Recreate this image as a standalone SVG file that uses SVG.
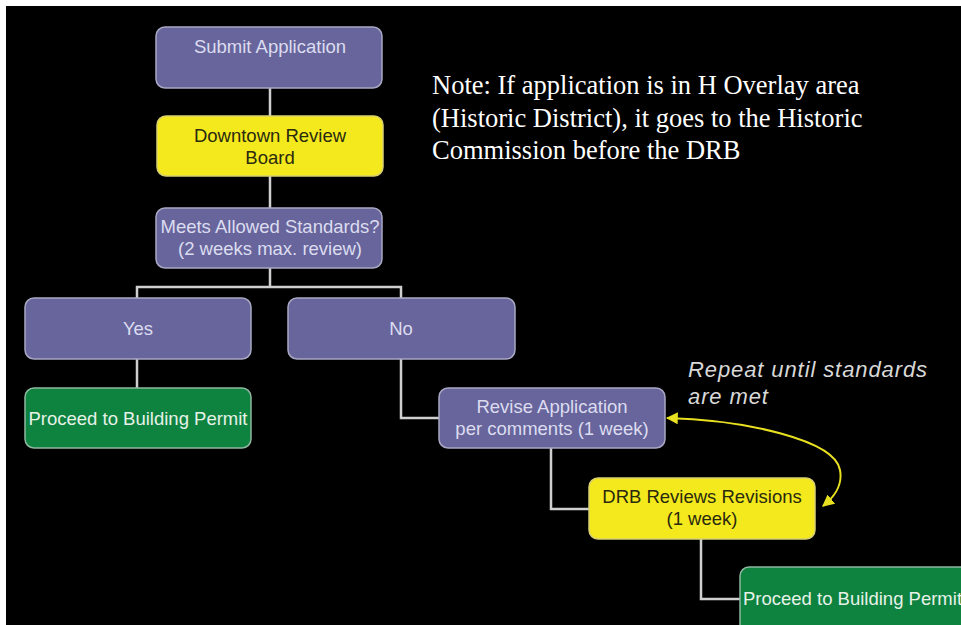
<svg xmlns="http://www.w3.org/2000/svg" width="961" height="625" viewBox="0 0 961 625">
<defs>
<style>
.bg{fill:#000}
.p rect{fill:#67659b;stroke:#a9a8c4;stroke-width:1.5}
.y rect{fill:#f4e91c;stroke:#d8d070;stroke-width:1.5}
.g rect{fill:#0e823f;stroke:#8fb8a0;stroke-width:1.5}
.lbl{font-family:"Liberation Sans",Arial,sans-serif;font-size:18.5px;text-anchor:middle}
.p text{fill:#dcdcf0}
.y text{fill:#2a2a10}
.g text{fill:#e6f2e8}
.con path{fill:none;stroke:#cfcfcf;stroke-width:2.5}
.loop{fill:none;stroke:#e8e020;stroke-width:2}
.note{font-family:"Liberation Serif","Times New Roman",serif;font-size:26.5px;fill:#fff}
.rep{font-family:"Liberation Sans",Arial,sans-serif;font-size:22px;font-style:italic;fill:#d8d8d8;letter-spacing:0.9px}
</style>
<marker id="ah" viewBox="0 0 10 10" refX="9" refY="5" markerWidth="6" markerHeight="6" orient="auto-start-reverse">
<path d="M0,0 L10,5 L0,10 z" fill="#e8e020"/>
</marker>
</defs>
<rect x="0" y="0" width="961" height="625" fill="#fff"/>
<rect class="bg" x="6" y="6" width="955" height="619"/>

<g id="connectors" class="con">
<path d="M270,88 V116"/>
<path d="M270,176 V208"/>
<path d="M270,268 V287 M137,298 V287 H401 V298"/>
<path d="M137,359 V388"/>
<path d="M401,359 V418 H439"/>
<path d="M551,448 V509 H589"/>
<path d="M701,539 V599 H740"/>
</g>

<g id="n-submit" class="p">
<rect x="156" y="27" width="226" height="61" rx="9"/>
<text class="lbl" x="270" y="53">Submit Application</text>
</g>
<g id="n-drb" class="y">
<rect x="157" y="116" width="226" height="60" rx="9"/>
<text class="lbl" x="270" y="142">Downtown Review</text>
<text class="lbl" x="270" y="164">Board</text>
</g>
<g id="n-meets" class="p">
<rect x="156" y="208" width="226" height="60" rx="9"/>
<text class="lbl" x="270" y="233">Meets Allowed Standards?</text>
<text class="lbl" x="270" y="255">(2 weeks max. review)</text>
</g>
<g id="n-yes" class="p">
<rect x="25" y="298" width="226" height="61" rx="9"/>
<text class="lbl" x="138" y="335">Yes</text>
</g>
<g id="n-no" class="p">
<rect x="288" y="298" width="227" height="61" rx="9"/>
<text class="lbl" x="401" y="335">No</text>
</g>
<g id="n-permit1" class="g">
<rect x="25" y="388" width="226" height="60" rx="9"/>
<text class="lbl" x="138" y="425">Proceed to Building Permit</text>
</g>
<g id="n-revise" class="p">
<rect x="439" y="388" width="226" height="60" rx="9"/>
<text class="lbl" x="552" y="413">Revise Application</text>
<text class="lbl" x="552" y="435">per comments (1 week)</text>
</g>
<g id="n-drbrev" class="y">
<rect x="589" y="478" width="226" height="61" rx="9"/>
<text class="lbl" x="702" y="503">DRB Reviews Revisions</text>
<text class="lbl" x="702" y="525">(1 week)</text>
</g>
<g id="n-permit2" class="g">
<rect x="740" y="567" width="240" height="70" rx="9"/>
<text class="lbl" x="743" y="605" style="text-anchor:start">Proceed to Building Permit</text>
</g>

<g id="loop">
<path class="loop" d="M667,418 C745,420 835,440 840,470 C843,486 834,497 823,506" marker-start="url(#ah)" marker-end="url(#ah)"/>
</g>

<g id="note">
<text class="note" x="432" y="94">Note: If application is in H Overlay area</text>
<text class="note" x="432" y="127">(Historic District), it goes to the Historic</text>
<text class="note" x="432" y="159">Commission before the DRB</text>
</g>
<g id="repeat">
<text class="rep" x="688" y="377">Repeat until standards</text>
<text class="rep" x="688" y="404">are met</text>
</g>
</svg>
